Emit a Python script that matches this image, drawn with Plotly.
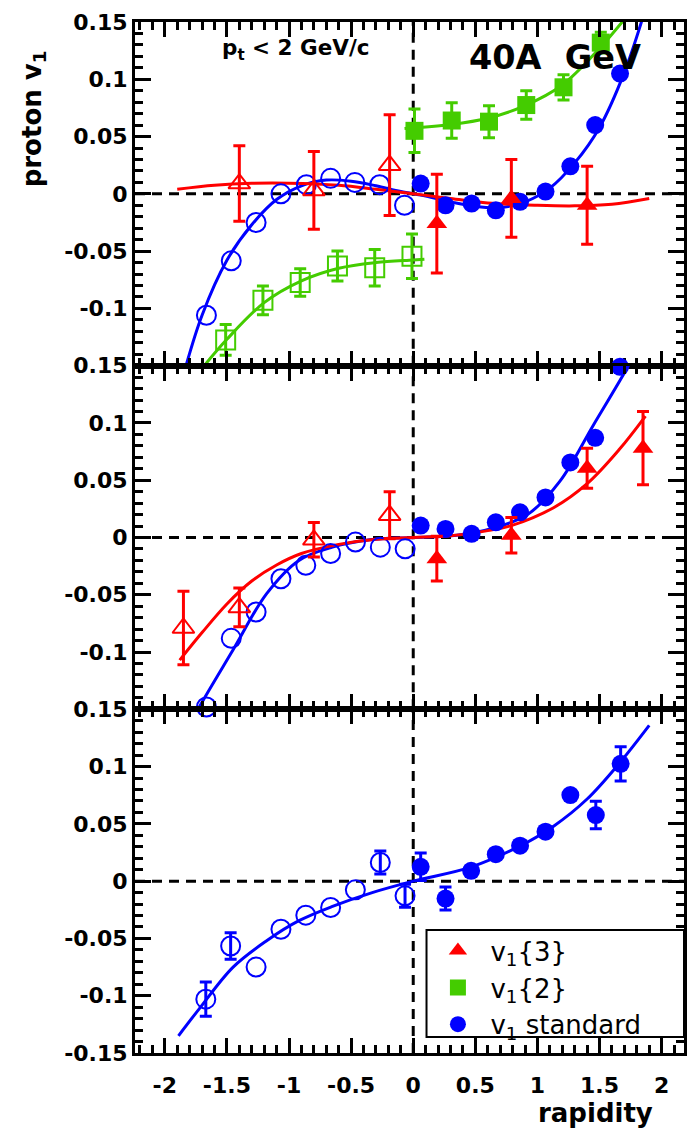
import plotly.graph_objects as go
from plotly.subplots import make_subplots

# ---------------- axis ticks ----------------
x_tickvals = [-2, -1.5, -1, -0.5, 0, 0.5, 1, 1.5, 2]
x_ticktext = ["-2", "-1.5", "-1", "-0.5", "0", "0.5", "1", "1.5", "2"]
y_tickvals = [0.15, 0.1, 0.05, 0, -0.05, -0.1, -0.15]
y_ticktext = ["0.15", "0.1", "0.05", "0", "-0.05", "-0.1", "-0.15"]

# ---------------- panel 1 ----------------
p1_v13_x = [0.19, 0.79, 1.40]
p1_v13_y = [-0.026, -0.004, -0.010]
p1_v13_e = [0.043, 0.034, 0.034]
p1_v13r_x = [-1.40, -0.80, -0.19]
p1_v13r_y = [0.009, 0.003, 0.025]
p1_v13r_e = [0.033, 0.034, 0.044]

p1_v12_x = [0.01, 0.31, 0.61, 0.91, 1.21, 1.51]
p1_v12_y = [0.055, 0.064, 0.063, 0.0775, 0.093, 0.132]
p1_v12_e = [0.019, 0.0155, 0.014, 0.0125, 0.011, 0.009]
p1_v12r_x = [-1.51, -1.21, -0.91, -0.61, -0.31, -0.01]
p1_v12r_y = [-0.1275, -0.093, -0.0775, -0.063, -0.0645, -0.0545]
p1_v12r_e = [0.0135, 0.0125, 0.012, 0.013, 0.016, 0.0195]

p1_std_x = [0.06, 0.26, 0.47, 0.665, 0.86, 1.065, 1.265, 1.465, 1.665]
p1_std_y = [0.009, -0.010, -0.0085, -0.0144, -0.007, 0.002, 0.024, 0.060, 0.105]
p1_stdr_x = [-1.665, -1.465, -1.265, -1.065, -0.86, -0.665, -0.47, -0.27, -0.07]
p1_stdr_y = [-0.106, -0.0585, -0.025, 0.000, 0.008, 0.0135, 0.010, 0.008, -0.010]

p1_fit_std_x = [-1.85, -1.7, -1.5, -1.3, -1.1, -0.9, -0.7, -0.5, -0.3, -0.1,
                0.1, 0.3, 0.5, 0.7, 0.9, 1.1, 1.3, 1.5, 1.7, 1.86]
p1_fit_std_y = [-0.158, -0.106, -0.058, -0.027, -0.005, 0.007, 0.012, 0.011, 0.007, 0.002,
                -0.002, -0.007, -0.011, -0.012, -0.007, 0.005, 0.027, 0.058, 0.106, 0.158]
p1_fit_v13_x = [-1.9, -1.6, -1.3, -1.0, -0.6, -0.3, 0, 0.3, 0.6, 1.0, 1.3, 1.6, 1.9]
p1_fit_v13_y = [0.004, 0.0075, 0.0092, 0.0093, 0.0075, 0.004, 0, -0.004, -0.008, -0.010,
                -0.0105, -0.009, -0.004]
p1_fit_v12_x = [-0.07, 0.3, 0.6, 0.9, 1.2, 1.5, 1.72]
p1_fit_v12_y = [0.057, 0.0605, 0.066, 0.077, 0.095, 0.127, 0.155]
p1_fit_v12r_x = [-1.72, -1.5, -1.2, -0.9, -0.6, -0.3, 0, 0.09]
p1_fit_v12r_y = [-0.155, -0.127, -0.095, -0.076, -0.065, -0.060, -0.0577, -0.057]

# ---------------- panel 2 ----------------
p2_v13_x = [0.19, 0.79, 1.40, 1.85]
p2_v13_y = [-0.0185, 0.002, 0.0605, 0.078]
p2_v13_e = [0.0195, 0.0155, 0.0175, 0.032]
p2_v13r_x = [-1.85, -1.40, -0.80, -0.19]
p2_v13r_y = [-0.079, -0.061, -0.002, 0.0195]
p2_v13r_e = [0.032, 0.017, 0.015, 0.0205]

p2_std_x = [0.06, 0.26, 0.47, 0.665, 0.86, 1.065, 1.265, 1.465, 1.665]
p2_std_y = [0.0104, 0.0075, 0.0032, 0.0133, 0.022, 0.035, 0.0655, 0.087, 0.149]
p2_stdr_x = [-1.665, -1.465, -1.265, -1.065, -0.865, -0.665, -0.465, -0.265, -0.065]
p2_stdr_y = [-0.148, -0.088, -0.065, -0.036, -0.0243, -0.014, -0.004, -0.0084, -0.0099]

p2_fit_std_x = [-1.76, -1.72, -1.45, -1.18, -0.92, -0.65, -0.35, 0,
                0.35, 0.65, 0.92, 1.18, 1.45, 1.72, 1.76]
p2_fit_std_y = [-0.156, -0.1475, -0.098, -0.049, -0.020, -0.0084, -0.002, 0,
                0.002, 0.0084, 0.020, 0.049, 0.098, 0.1475, 0.156]
p2_fit_v13_x = [-1.88, -1.7, -1.5, -1.3, -1.1, -0.9, -0.6, -0.3, 0,
                0.3, 0.6, 0.79, 1.13, 1.40, 1.66, 1.87]
p2_fit_v13_y = [-0.107, -0.083, -0.058, -0.038, -0.024, -0.014, -0.006, -0.0015, 0,
                0.0015, 0.006, 0.0104, 0.026, 0.047, 0.077, 0.106]

# ---------------- panel 3 ----------------
# points whose error bar is hidden behind the marker carry None
p3_std_x = [0.06, 0.26, 0.466, 0.665, 0.86, 1.065, 1.265, 1.47, 1.67]
p3_std_y = [0.0125, -0.0152, 0.009, 0.0236, 0.031, 0.0432, 0.0752, 0.0577, 0.1024]
p3_std_e = [0.012, 0.010, None, None, None, None, None, 0.012, 0.015]
p3_stdr_x = [-1.67, -1.47, -1.265, -1.065, -0.865, -0.665, -0.466, -0.265, -0.066]
p3_stdr_y = [-0.103, -0.0566, -0.075, -0.042, -0.0297, -0.023, -0.0076, 0.0163, -0.0128]
p3_stdr_e = [0.015, 0.0115, None, None, None, None, None, 0.010, 0.010]

p3_fit_std_x = [-1.89, -1.72, -1.45, -1.18, -0.92, -0.65, -0.33, 0,
                0.47, 0.865, 1.13, 1.40, 1.66, 1.90]
p3_fit_std_y = [-0.135, -0.111, -0.075, -0.052, -0.0345, -0.022, -0.010, 0,
                0.0125, 0.031, 0.048, 0.0717, 0.103, 0.136]

# ---------------- styling ----------------
RED = "#ff0000"
GREEN = "#44cc00"
BLUE = "#0000ff"
FONT = "DejaVu Sans"
MS = 18

fig = make_subplots(rows=3, cols=1, shared_xaxes=True, vertical_spacing=0)


def fit_line(x, y, color, row):
    fig.add_trace(go.Scatter(x=x, y=y, mode="lines", line=dict(color=color, width=3, shape="spline"),
                             showlegend=False, hoverinfo="skip"), row=row, col=1)


def points(x, y, color, symbol, row, err=None, name=None, legend=False, rank=None):
    open_sym = symbol.endswith("-open")
    marker = dict(symbol=symbol, size=MS + (1 if open_sym else 0), color=color,
                  line=dict(color=color, width=2 if open_sym else 0))
    if err is None:
        groups = [(list(x), list(y), None)]
    else:
        with_e = [i for i, e in enumerate(err) if e is not None]
        without_e = [i for i, e in enumerate(err) if e is None]
        groups = [([x[i] for i in with_e], [y[i] for i in with_e], [err[i] for i in with_e])]
        if without_e:
            groups.append(([x[i] for i in without_e], [y[i] for i in without_e], None))
    for k, (gx, gy, ge) in enumerate(groups):
        kw = {}
        if ge is not None:
            kw["error_y"] = dict(type="data", array=ge, color=color, thickness=3, width=6)
        fig.add_trace(go.Scatter(
            x=gx, y=gy, mode="markers", name=name, showlegend=(legend and k == 0),
            legendrank=rank if rank is not None else 1000,
            marker=marker, cliponaxis=False, **kw), row=row, col=1)


# panel 1
fit_line(p1_fit_v12r_x, p1_fit_v12r_y, GREEN, 1)
fit_line(p1_fit_v12_x, p1_fit_v12_y, GREEN, 1)
fit_line(p1_fit_std_x, p1_fit_std_y, BLUE, 1)
fit_line(p1_fit_v13_x, p1_fit_v13_y, RED, 1)
points(p1_v12r_x, p1_v12r_y, GREEN, "square-open", 1, p1_v12r_e)
points(p1_stdr_x, p1_stdr_y, BLUE, "circle-open", 1)
points(p1_v13r_x, p1_v13r_y, RED, "triangle-up-open", 1, p1_v13r_e)
points(p1_v12_x, p1_v12_y, GREEN, "square", 1, p1_v12_e, "v<sub>1</sub>{2}", True, 2)
points(p1_std_x, p1_std_y, BLUE, "circle", 1, None, "v<sub>1</sub> standard", True, 3)
points(p1_v13_x, p1_v13_y, RED, "triangle-up", 1, p1_v13_e, "v<sub>1</sub>{3}", True, 1)

# panel 2
fit_line(p2_fit_std_x, p2_fit_std_y, BLUE, 2)
fit_line(p2_fit_v13_x, p2_fit_v13_y, RED, 2)
points(p2_stdr_x, p2_stdr_y, BLUE, "circle-open", 2)
points(p2_std_x, p2_std_y, BLUE, "circle", 2)
points(p2_v13r_x, p2_v13r_y, RED, "triangle-up-open", 2, p2_v13r_e)
points(p2_v13_x, p2_v13_y, RED, "triangle-up", 2, p2_v13_e)

# panel 3
fit_line(p3_fit_std_x, p3_fit_std_y, BLUE, 3)
points(p3_stdr_x, p3_stdr_y, BLUE, "circle-open", 3, p3_stdr_e)
points(p3_std_x, p3_std_y, BLUE, "circle", 3, p3_std_e)

XR = [-2.24, 2.18]
YR = [-0.15, 0.15]

for r in (1, 2, 3):
    fig.update_xaxes(
        row=r, col=1, range=XR, showgrid=False, zeroline=False,
        showline=True, linecolor="black", linewidth=3, mirror="ticks",
        ticks="inside", ticklen=15, tickwidth=3, tickcolor="black",
        tickvals=x_tickvals, ticktext=x_ticktext, showticklabels=(r == 3),
        ticklabelstandoff=11,
        tickfont=dict(family=FONT, size=22, color="black", weight="bold"),
        minor=dict(ticks="inside", dtick=0.1, tick0=0, ticklen=8, tickwidth=2.5,
                   tickcolor="black", showgrid=False),
    )
    n = 7 if r == 3 else 6
    fig.update_yaxes(
        row=r, col=1, range=YR, showgrid=False, zeroline=False,
        showline=True, linecolor="black", linewidth=3, mirror="ticks",
        ticks="inside", ticklen=16, tickwidth=3, tickcolor="black",
        tickvals=y_tickvals[:n], ticktext=y_ticktext[:n],
        tickfont=dict(family=FONT, size=22, color="black", weight="bold"),
        minor=dict(ticks="inside", dtick=0.01, tick0=0, ticklen=8, tickwidth=2.5,
                   tickcolor="black", showgrid=False),
    )
    xref = "x" if r == 1 else f"x{r}"
    yref = "y" if r == 1 else f"y{r}"
    dash = dict(color="black", width=3, dash="10px,7px")
    fig.add_shape(type="line", xref=xref, yref=yref, x0=XR[0], x1=XR[1], y0=0, y1=0,
                  line=dash, layer="below")
    fig.add_shape(type="line", xref=xref, yref=yref, x0=0, x1=0, y0=YR[0], y1=YR[1],
                  line=dash, layer="below")

# legend frame
fig.add_shape(type="rect", xref="paper", yref="paper", x0=0.531, x1=1.0, y0=0.0155, y1=0.1193,
              line=dict(color="black", width=2), fillcolor="white", layer="above")

fig.add_annotation(xref="paper", yref="paper", x=0.293, y=0.973, xanchor="center", yanchor="middle",
                   text="p<sub>t</sub> &lt; 2 GeV/c", showarrow=False,
                   font=dict(family=FONT, size=21.5, color="black", weight="bold"))
fig.add_annotation(xref="paper", yref="paper", x=0.765, y=0.9656, xanchor="center", yanchor="middle",
                   text="40A\u00a0 GeV", showarrow=False,
                   font=dict(family=FONT, size=33.5, color="black", weight="bold"))
fig.add_annotation(xref="paper", yref="paper", x=-0.185, y=0.906, xanchor="center", yanchor="middle",
                   textangle=-90, text="proton v<sub>1</sub>", showarrow=False,
                   font=dict(family=FONT, size=26, color="black", weight="bold"))
fig.add_annotation(xref="paper", yref="paper", x=0.839, y=-0.058, xanchor="center", yanchor="middle",
                   text="rapidity", showarrow=False,
                   font=dict(family=FONT, size=26, color="black", weight="bold"))

fig.update_layout(
    width=693, height=1131,
    margin=dict(l=135, r=6, t=22, b=78),
    paper_bgcolor="white", plot_bgcolor="white",
    showlegend=True,
    legend=dict(x=0.529, y=0.122, xanchor="left", yanchor="top",
                bgcolor="rgba(0,0,0,0)", borderwidth=0,
                font=dict(family=FONT, size=26, color="black"),
                itemwidth=55, tracegroupgap=0),
)

fig.write_html("out.html")
